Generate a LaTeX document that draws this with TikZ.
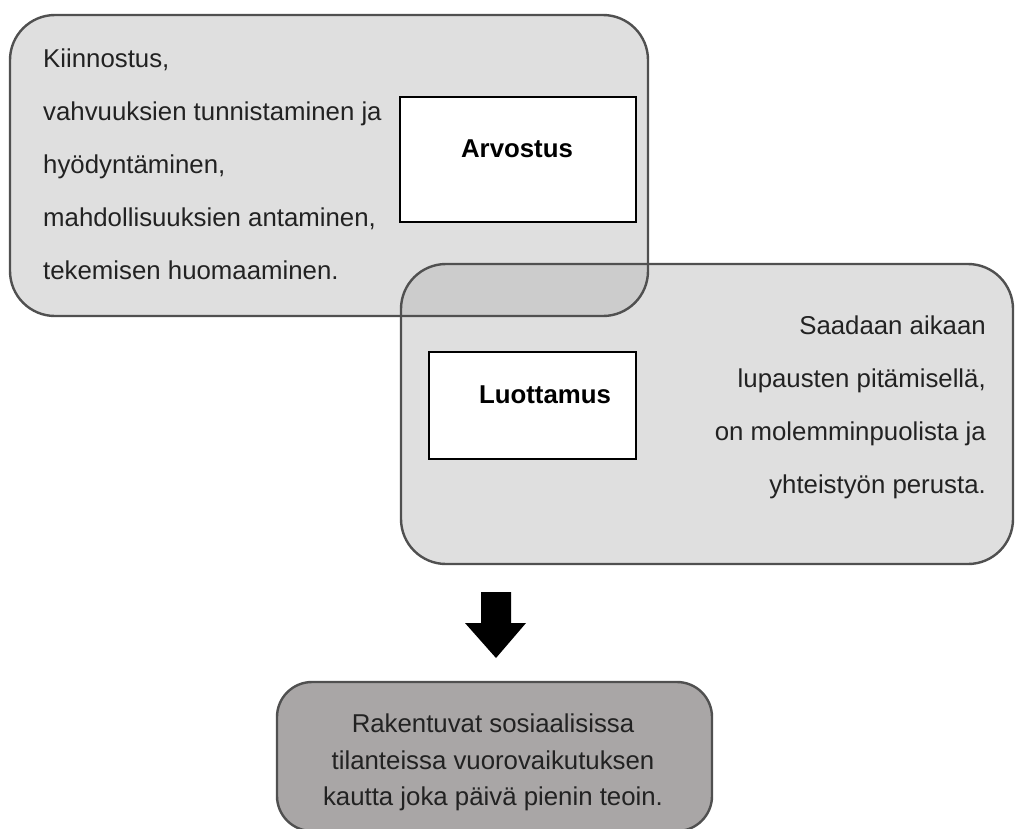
\documentclass[tikz,border=0pt]{standalone}
\usepackage{fontspec}
\setmainfont{Liberation Sans}
\definecolor{boxgray}{gray}{0.6875}
\definecolor{edgegray}{RGB}{80,80,80}
\definecolor{txtgray}{RGB}{34,34,34}
\definecolor{lowgray}{RGB}{169,166,166}
\begin{document}
\begin{tikzpicture}[x=1pt,y=-1pt,
  panelfill/.style={rectangle, rounded corners=45pt, fill=boxgray, fill opacity=0.4, inner sep=0pt, outer sep=0pt},
  paneledge/.style={draw=edgegray, line width=2.4pt, rounded corners=45pt},
  whitebox/.style={rectangle, draw=black, line width=2.6pt, fill=white, inner sep=0pt, outer sep=0pt},
  bodytext/.style={text=txtgray, inner sep=0pt, font={\fontsize{25.8}{53}\selectfont}},
  boldtext/.style={text=black, inner sep=0pt, font={\fontsize{25.8}{30}\selectfont\bfseries}},
  lowbox/.style={draw=edgegray, line width=2.4pt, rounded corners=35pt, fill=lowgray},
  arrowfill/.style={fill=black}
]
\useasboundingbox (0,0) rectangle (1016,828);
% panels (fills first, then edges)
\node[panelfill, minimum width=638pt, minimum height=301pt] (upper) at (329,165.5) {};
\node[panelfill, minimum width=612pt, minimum height=300pt] (lower) at (707,414) {};
\draw[paneledge] (upper.north west) rectangle (upper.south east);
\draw[paneledge] (lower.north west) rectangle (lower.south east);
% upper panel content
\node[bodytext, anchor=north west, align=left] (uppertext) at (43,49)
  {Kiinnostus,\\vahvuuksien tunnistaminen ja\\hyödyntäminen,\\mahdollisuuksien antaminen,\\tekemisen huomaaminen.};
\node[whitebox, minimum width=236pt, minimum height=125pt] (arvbox) at (518,159.5) {};
\node[boldtext, anchor=base] (arvtext) at (517,157) {Arvostus};
% lower panel content
\node[whitebox, minimum width=207pt, minimum height=107pt] (luobox) at (532.5,405.5) {};
\node[boldtext, anchor=base] (luotext) at (545,403) {Luottamus};
\node[bodytext, anchor=north east, align=right] (lowertext) at (986,316)
  {Saadaan aikaan\\lupausten pitämisellä,\\on molemminpuolista ja\\yhteistyön perusta.};
% arrow
\coordinate (arrowtip) at (496,658);
\fill[arrowfill] (481,592) -- (511,592) -- (511,623) -- (526,623) -- (arrowtip) -- (465,623) -- (481,623) -- cycle;
% bottom box
\draw[lowbox] (277,682) rectangle (712,831);
\node[bodytext, anchor=north, align=center, font={\fontsize{25.8}{36.5}\selectfont}] (bottomtext) at (493,714)
  {Rakentuvat sosiaalisissa\\tilanteissa vuorovaikutuksen\\kautta joka päivä pienin teoin.};
\end{tikzpicture}
\end{document}
